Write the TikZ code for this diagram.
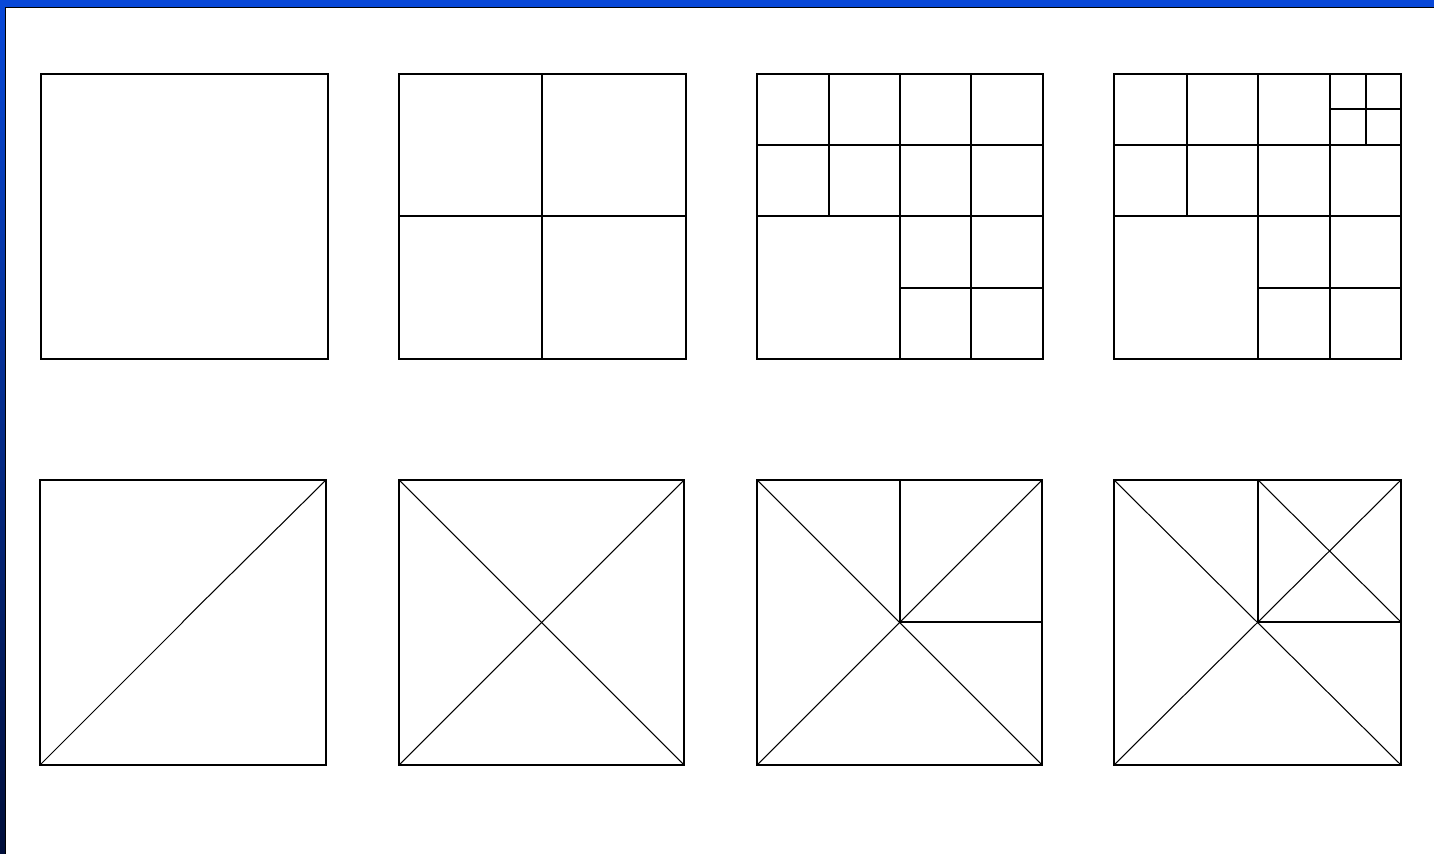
\documentclass[tikz,border=0pt]{standalone}
\begin{document}
\begin{tikzpicture}[x=0.02cm,y=-0.02cm,
  grid/.style={draw=black,line width=0.85pt},
  diag/.style={draw=black,line width=0.6pt}]
\definecolor{frameblue}{HTML}{0848D8}
\definecolor{framenavy}{HTML}{000E3A}
\useasboundingbox (0,0) rectangle (1434,854);
\fill[white] (0,0) rectangle (1434,854);
% frame
\fill[frameblue] (0,0) rectangle (1434,7);
\shade[top color=frameblue,bottom color=framenavy] (0,7) rectangle (5,854);
\draw[black,line width=1pt] (1434,7.5) -- (5.5,7.5) -- (5.5,854);
% ---- top row ----
% square 1
\draw[grid] (41,74) rectangle (328,359);
% square 2
\draw[grid] (399,74) rectangle (686,359);
\draw[grid] (542,74) -- (542,359);
\draw[grid] (399,216) -- (686,216);
% square 3
\draw[grid] (757,74) rectangle (1043,359);
\draw[grid] (900,74) -- (900,359);
\draw[grid] (757,216) -- (1043,216);
\draw[grid] (829,74) -- (829,216);
\draw[grid] (971,74) -- (971,359);
\draw[grid] (757,145) -- (1043,145);
\draw[grid] (900,288) -- (1043,288);
% square 4
\draw[grid] (1114,74) rectangle (1401,359);
\draw[grid] (1258,74) -- (1258,359);
\draw[grid] (1114,216) -- (1401,216);
\draw[grid] (1187,74) -- (1187,216);
\draw[grid] (1330,74) -- (1330,359);
\draw[grid] (1114,145) -- (1401,145);
\draw[grid] (1258,288) -- (1401,288);
\draw[grid] (1366,74) -- (1366,145);
\draw[grid] (1330,109) -- (1401,109);
% ---- bottom row ----
% square 1
\draw[grid] (40,480) rectangle (326,765);
\draw[diag] (40,765) -- (182,623) -- (184,620.5) -- (326,480);
% square 2
\draw[grid] (399,480) rectangle (684,765);
\draw[diag] (399,480) -- (684,765);
\draw[diag] (399,765) -- (684,480);
% square 3
\draw[grid] (757,480) rectangle (1042,765);
\draw[diag] (757,480) -- (1042,765);
\draw[diag] (757,765) -- (1042,480);
\draw[grid] (900,480) -- (900,622) -- (1042,622);
% square 4
\draw[grid] (1114,480) rectangle (1401,765);
\draw[diag] (1114,480) -- (1401,765);
\draw[diag] (1114,765) -- (1401,480);
\draw[grid] (1258,480) -- (1258,622) -- (1401,622);
\draw[diag] (1258,480) -- (1401,622);
\end{tikzpicture}
\end{document}
